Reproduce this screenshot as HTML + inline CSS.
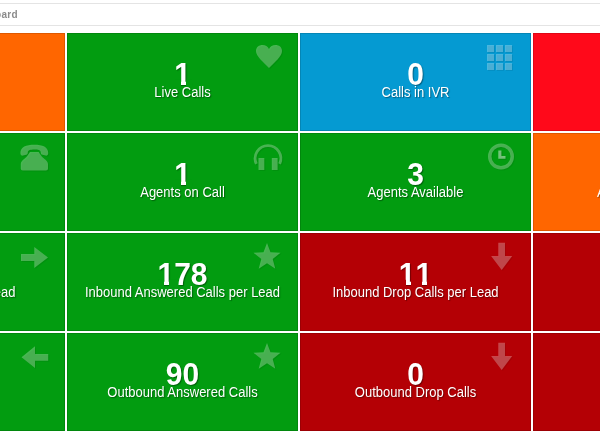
<!DOCTYPE html>
<html><head><meta charset="utf-8">
<style>
html,body{margin:0;padding:0;background:#fff;}
body{width:600px;height:437px;overflow:hidden;position:relative;font-family:"Liberation Sans",sans-serif;}
.bar{position:absolute;left:-10px;top:3px;width:620px;height:21px;border-top:1px solid #e4e4e4;border-bottom:1px solid #e4e4e4;background:#fff;}
.bar span{position:absolute;right:592.1px;top:4px;font-size:10px;letter-spacing:.3px;font-weight:bold;color:#8c8c8c;line-height:14px;white-space:nowrap;}
.t{position:absolute;height:98px;overflow:hidden;color:#fff;text-align:center;box-shadow:inset 0 0 0 1px rgba(0,0,0,.13);}
.c1{left:-166px;width:231px;}
.c2{left:67px;width:231px;}
.c3{left:300px;width:231px;}
.c4{left:533px;width:231px;}
.r1{top:33px}.r2{top:133px}.r3{top:233px}.r4{top:333px}
.g{background:#029c10}.o{background:#ff6600}.b{background:#059ad2}.r{background:#ff091a}.d{background:#b40005}
.n{position:absolute;left:0;right:0;top:25.3px;font-size:30px;font-weight:bold;line-height:34px;transform:scaleY(1.04);transform-origin:50% 27px;text-shadow:1px 1px 1px rgba(0,0,0,.38);}
.l{position:absolute;left:0;right:0;top:51px;transform:scaleY(1.07);transform-origin:50% 3px;font-size:13px;line-height:16px;white-space:nowrap;text-shadow:1px 1px 1px rgba(0,0,0,.38);}
.one{position:relative;display:inline-block;}
.one::before,.one::after{content:"";position:absolute;top:22.4px;height:6.6px;}
.one::before{left:.8px;width:5.9px;}
.one::after{left:11.9px;width:6.4px;}
.g .one::before,.g .one::after{background:#029c10}
.d .one::before,.d .one::after{background:#b40005}
svg.i{position:absolute;left:0;top:0;width:231px;height:98px;fill:rgba(255,255,255,.28);filter:drop-shadow(1px 1px 0.5px rgba(0,0,0,.25));}
</style></head><body>
<div class="bar"><span>Dashboard</span></div>

<div class="t c1 r1 o"></div>
<div class="t c2 r1 g"><svg class="i" viewBox="0 0 231 98"><path d="M202 35 C196 29 189 23 189 18 C189 14 192 12 195.500 12 C198.500 12 200.800 13.500 202 16 C203.200 13.500 205.500 12 208.500 12 C212 12 215 14 215 18 C215 23 208 29 202 35Z"/></svg><div class="n"><span class="one">1</span></div><div class="l">Live Calls</div></div>
<div class="t c3 r1 b"><svg class="i" viewBox="0 0 231 98"><g><rect x="187" y="12" width="7" height="7"/><rect x="196" y="12" width="7" height="7"/><rect x="205" y="12" width="7" height="7"/><rect x="187" y="21" width="7" height="7"/><rect x="196" y="21" width="7" height="7"/><rect x="205" y="21" width="7" height="7"/><rect x="187" y="30" width="7" height="7"/><rect x="196" y="30" width="7" height="7"/><rect x="205" y="30" width="7" height="7"/></g></svg><div class="n">0</div><div class="l">Calls in IVR</div></div>
<div class="t c4 r1 r"></div>

<div class="t c1 r2 g"><svg class="i" viewBox="0 0 231 98"><g transform="translate(166,-133)"><path d="M20.4 153 C20.4 147 26 144.800 34.300 144.800 C42.600 144.800 48.200 147 48.200 153 C48.200 155 47 155.900 45.500 155.600 L42.500 154.800 C41 154.400 40.800 153.500 40.800 152.500 C40.800 150 38 149.400 34.300 149.400 C30.600 149.400 27.800 150 27.800 152.500 C27.800 153.500 27.600 154.400 26.100 154.800 L23.100 155.600 C21.600 155.900 20.400 155 20.400 153Z"/><path d="M30 152 L38.600 152 L41.600 156.300 C43.600 159 48 160.500 48 164 L48 168.500 C48 169.800 47.200 170.500 46 170.500 L22.800 170.500 C21.600 170.500 20.800 169.800 20.800 168.500 L20.800 164 C20.800 160.500 25 159 27 156.300Z"/></g></svg></div>
<div class="t c2 r2 g"><svg class="i" viewBox="0 0 231 98"><path d="M189.350 30.930 A12.850 12.850 0 1 1 212.650 30.930" fill="none" stroke="rgba(255,255,255,.28)" stroke-width="2.800"/><rect x="191.500" y="25" width="5.800" height="12"/><rect x="204.800" y="25" width="5.800" height="12"/></svg><div class="n"><span class="one">1</span></div><div class="l">Agents on Call</div></div>
<div class="t c3 r2 g"><svg class="i" viewBox="0 0 231 98"><path fill-rule="evenodd" d="M201 10.500 A13 13 0 1 0 201 36.500 A13 13 0 1 0 201 10.500Z M201 14 A9.500 9.500 0 1 1 201 33 A9.500 9.500 0 1 1 201 14Z"/><path fill="rgba(255,255,255,.45)" d="M198.300 17.500 L201.400 17.500 L201.400 23 L205.500 23 L205.500 25.800 L198.300 25.800Z"/></svg><div class="n">3</div><div class="l">Agents Available</div></div>
<div class="t c4 r2 o"><div class="l" style="left:64px;right:auto;text-align:left">Agents</div></div>

<div class="t c1 r3 g"><svg class="i" viewBox="0 0 231 98"><path d="M187 21 L200.300 21 L200.300 14 L214 24.500 L200.300 35 L200.300 28 L187 28Z"/></svg><div class="l" style="left:auto;right:49.500px;text-align:right">Inbound Calls per Lead</div></div>
<div class="t c2 r3 g"><svg class="i" viewBox="0 0 231 98"><path d="M200.0 10.0 L203.5 19.3 L213.5 19.8 L205.7 26.1 L208.3 35.7 L200.0 30.2 L191.7 35.7 L194.3 26.1 L186.5 19.8 L196.5 19.3Z"/></svg><div class="n"><span class="one">1</span>78</div><div class="l">Inbound Answered Calls per Lead</div></div>
<div class="t c3 r3 d"><svg class="i" viewBox="0 0 231 98"><path d="M198.300 9.700 L205 9.700 L205 23 L212.200 23 L201.700 37 L191.100 23 L198.300 23Z"/></svg><div class="n"><span class="one">1</span><span class="one">1</span></div><div class="l">Inbound Drop Calls per Lead</div></div>
<div class="t c4 r3 d"></div>

<div class="t c1 r4 g"><svg class="i" viewBox="0 0 231 98"><path d="M214.200 21 L201 21 L201 13.300 L187.500 24.200 L201 35 L201 27.700 L214.200 27.700Z"/></svg></div>
<div class="t c2 r4 g"><svg class="i" viewBox="0 0 231 98"><path d="M200.0 10.0 L203.5 19.3 L213.5 19.8 L205.7 26.1 L208.3 35.7 L200.0 30.2 L191.7 35.7 L194.3 26.1 L186.5 19.8 L196.5 19.3Z"/></svg><div class="n">90</div><div class="l">Outbound Answered Calls</div></div>
<div class="t c3 r4 d"><svg class="i" viewBox="0 0 231 98"><path d="M198.300 9.700 L205 9.700 L205 23 L212.200 23 L201.700 37 L191.100 23 L198.300 23Z"/></svg><div class="n">0</div><div class="l">Outbound Drop Calls</div></div>
<div class="t c4 r4 d"></div>
</body></html>
